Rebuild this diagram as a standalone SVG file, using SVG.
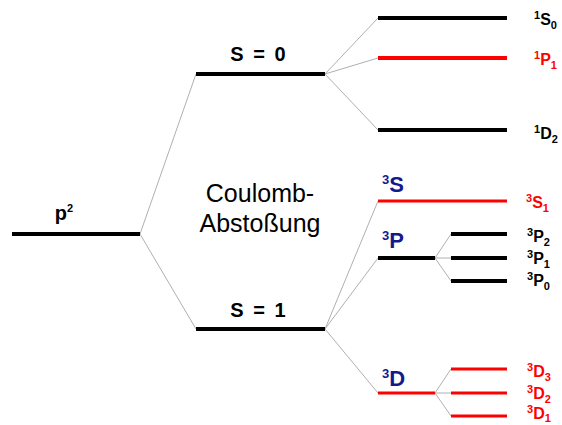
<svg xmlns="http://www.w3.org/2000/svg" width="562" height="425" viewBox="0 0 562 425">
<style>
.lv{stroke:#000;stroke-width:4}
.lr{stroke:#ff0000;stroke-width:3}
.c{stroke:#b0b0b0;stroke-width:1;fill:none}
.t{font-family:"Liberation Sans",Arial,sans-serif;font-weight:bold}
.h{font-size:20px;fill:#000}
.s{font-size:16px}
.sup{font-size:11px}
.blk{fill:#000}
.red{fill:#ff0000}
.blu{fill:#141a8e;font-size:22px}
.bsup{font-size:13px}
</style>
<rect width="562" height="425" fill="#fff"/>
<g id="connectors">
<path class="c" d="M140 234 L196 74 M140 234 L196 329"/>
<path class="c" d="M325 74 L378 18 M325 74 L378 58 M325 74 L378 130"/>
<path class="c" d="M325 329 L378 201 M325 329 L378 258 M325 329 L378 393"/>
<path class="c" d="M435 258 L451 234 M435 258 L451 258 M435 258 L451 281"/>
<path class="c" d="M435 393 L451 369 M435 393 L451 393 M435 393 L451 416"/>
</g>
<g id="p2"><line class="lv" x1="12" y1="234" x2="140" y2="234"/><text class="t h" x="64" y="220" text-anchor="middle">p<tspan font-size="11" dy="-8">2</tspan></text></g>
<g id="s0"><line class="lv" x1="196" y1="74" x2="325" y2="74"/><text class="t h" x="258" y="61" text-anchor="middle" word-spacing="4">S = 0</text></g>
<g id="s1"><line class="lv" x1="196" y1="329" x2="325" y2="329"/><text class="t h" x="258" y="317" text-anchor="middle" word-spacing="4">S = 1</text></g>
<g id="coulomb"><text font-family="'Liberation Sans',Arial,sans-serif" font-size="25" fill="#000" text-anchor="middle"><tspan x="260" y="202">Coulomb-</tspan><tspan x="260" y="232">Abstoßung</tspan></text></g>
<g id="l1S0"><line class="lv" x1="378" y1="18" x2="507" y2="18"/><text class="t s blk" font-size="16" x="534" y="25"><tspan class="sup" dy="-6">1</tspan><tspan dy="6">S</tspan><tspan class="sup" dy="4">0</tspan></text></g>
<g id="l1P1"><line class="lv" x1="378" y1="58" x2="507" y2="58" style="stroke:#ff0000"/><text class="t s red" font-size="16" x="534" y="65"><tspan class="sup" dy="-6">1</tspan><tspan dy="6">P</tspan><tspan class="sup" dy="4">1</tspan></text></g>
<g id="l1D2"><line class="lv" x1="378" y1="130" x2="507" y2="130"/><text class="t s blk" font-size="16" x="534" y="139"><tspan class="sup" dy="-6">1</tspan><tspan dy="6">D</tspan><tspan class="sup" dy="4">2</tspan></text></g>
<g id="l3S"><line class="lr" x1="378" y1="201" x2="507" y2="201"/><text class="t blu" x="382" y="192"><tspan class="bsup" dy="-8">3</tspan><tspan dy="8">S</tspan></text><text class="t s red" font-size="16" x="526" y="208"><tspan class="sup" dy="-6">3</tspan><tspan dy="6">S</tspan><tspan class="sup" dy="4">1</tspan></text></g>
<g id="l3P"><line class="lv" x1="378" y1="258" x2="435" y2="258"/><text class="t blu" x="382" y="248"><tspan class="bsup" dy="-8">3</tspan><tspan dy="8">P</tspan></text></g>
<g id="l3P2"><line class="lv" x1="451" y1="234" x2="507" y2="234"/><text class="t s blk" font-size="16" x="527" y="242"><tspan class="sup" dy="-6">3</tspan><tspan dy="6">P</tspan><tspan class="sup" dy="4">2</tspan></text></g>
<g id="l3P1"><line class="lv" x1="451" y1="258" x2="507" y2="258"/><text class="t s blk" font-size="16" x="527" y="264"><tspan class="sup" dy="-6">3</tspan><tspan dy="6">P</tspan><tspan class="sup" dy="4">1</tspan></text></g>
<g id="l3P0"><line class="lv" x1="451" y1="281" x2="507" y2="281"/><text class="t s blk" font-size="16" x="527" y="286"><tspan class="sup" dy="-6">3</tspan><tspan dy="6">P</tspan><tspan class="sup" dy="4">0</tspan></text></g>
<g id="l3D"><line class="lr" x1="378" y1="393" x2="435" y2="393"/><text class="t blu" x="382" y="386"><tspan class="bsup" dy="-8">3</tspan><tspan dy="8">D</tspan></text></g>
<g id="l3D3"><line class="lr" x1="451" y1="369" x2="507" y2="369"/><text class="t s red" font-size="16" x="527" y="377"><tspan class="sup" dy="-6">3</tspan><tspan dy="6">D</tspan><tspan class="sup" dy="4">3</tspan></text></g>
<g id="l3D2"><line class="lr" x1="451" y1="393" x2="507" y2="393"/><text class="t s red" font-size="16" x="527" y="399"><tspan class="sup" dy="-6">3</tspan><tspan dy="6">D</tspan><tspan class="sup" dy="4">2</tspan></text></g>
<g id="l3D1"><line class="lr" x1="451" y1="416" x2="507" y2="416"/><text class="t s red" font-size="16" x="527" y="419"><tspan class="sup" dy="-6">3</tspan><tspan dy="6">D</tspan><tspan class="sup" dy="3">1</tspan></text></g>
</svg>
